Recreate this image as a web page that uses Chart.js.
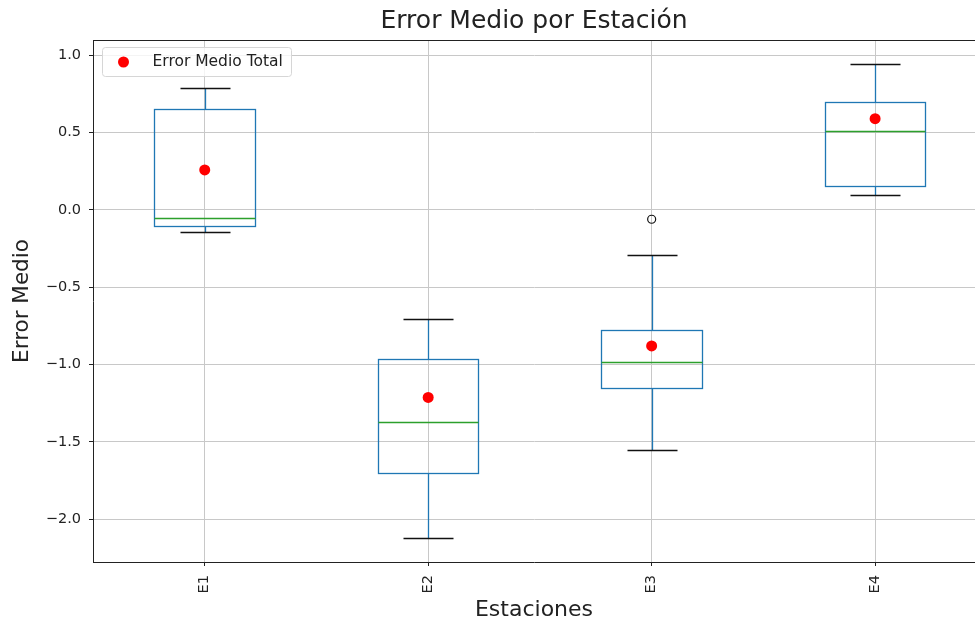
<!DOCTYPE html>
<html>
<head>
<meta charset="utf-8">
<script src="https://cdn.jsdelivr.net/npm/chart.js@4"></script>
<style>
  html, body { margin: 0; padding: 0; background: #fff; overflow: hidden; }
  #wrap { width: 975px; height: 627px; }
</style>
</head>
<body>
<div id="wrap"><canvas id="c" width="975" height="627"></canvas></div>
<script>
// Resumen por estación: bigotes, cuartiles, mediana, media y atípicos
const estaciones = ['E1', 'E2', 'E3', 'E4'];
const bigoteInf = [-0.142, -2.125, -1.553, 0.095];
const q1 = [-0.104, -1.700, -1.150, 0.155];
const mediana = [-0.054, -1.370, -0.986, 0.509];
const q3 = [0.652, -0.966, -0.777, 0.697];
const bigoteSup = [0.790, -0.706, -0.291, 0.943];
const errorMedioTotal = [0.259, -1.213, -0.880, 0.591];
const atipicos = [[], [], [-0.060], []];
const yTicks = [-2.0, -1.5, -1.0, -0.5, 0.0, 0.5, 1.0];

const FONT = "'DejaVu Sans', sans-serif";
const AZUL = '#1f77b4';
const VERDE = '#2ca02c';
const ANCHO_CAJA = 0.45;
const ANCHO_TOPE = 0.225;

const crisp = v => Math.round(v) + 0.5;

// Cajas y bigotes dibujados con las escalas del gráfico
const cajasPlugin = {
  id: 'cajas',
  beforeDatasetsDraw(chart) {
    const { ctx, chartArea, scales: { x, y } } = chart;
    ctx.save();
    ctx.beginPath();
    ctx.rect(chartArea.left, chartArea.top, chartArea.right - chartArea.left, chartArea.bottom - chartArea.top);
    ctx.clip();
    estaciones.forEach((_, i) => {
      const cx = crisp(x.getPixelForValue(i));
      const xl = crisp(x.getPixelForValue(i - ANCHO_CAJA / 2));
      const xr = crisp(x.getPixelForValue(i + ANCHO_CAJA / 2));
      const cl = crisp(x.getPixelForValue(i - ANCHO_TOPE / 2));
      const cr = crisp(x.getPixelForValue(i + ANCHO_TOPE / 2));
      const yQ1 = crisp(y.getPixelForValue(q1[i]));
      const yQ3 = crisp(y.getPixelForValue(q3[i]));
      const yMed = crisp(y.getPixelForValue(mediana[i]));
      const yLo = crisp(y.getPixelForValue(bigoteInf[i]));
      const yHi = crisp(y.getPixelForValue(bigoteSup[i]));

      ctx.lineWidth = 1.3;
      ctx.strokeStyle = AZUL;
      // bigotes
      ctx.beginPath();
      ctx.moveTo(cx, yQ3); ctx.lineTo(cx, yHi);
      ctx.moveTo(cx, yQ1); ctx.lineTo(cx, yLo);
      ctx.stroke();
      // caja
      ctx.strokeRect(xl, yQ3, xr - xl, yQ1 - yQ3);
      // topes
      ctx.strokeStyle = '#111';
      ctx.beginPath();
      ctx.moveTo(cl, yHi); ctx.lineTo(cr, yHi);
      ctx.moveTo(cl, yLo); ctx.lineTo(cr, yLo);
      ctx.stroke();
      // mediana
      ctx.strokeStyle = VERDE;
      ctx.beginPath();
      ctx.moveTo(xl, yMed); ctx.lineTo(xr, yMed);
      ctx.stroke();
    });
    ctx.restore();
  },
  afterDraw(chart) {
    // borde superior del área de trazado
    const { ctx, chartArea } = chart;
    ctx.save();
    ctx.strokeStyle = '#222';
    ctx.lineWidth = 1;
    ctx.beginPath();
    const yt = crisp(chartArea.top);
    ctx.moveTo(chartArea.left, yt);
    ctx.lineTo(chartArea.right, yt);
    ctx.stroke();
    ctx.restore();
  }
};

// Leyenda enmarcada en la esquina superior izquierda
const leyendaPlugin = {
  id: 'leyendaInterior',
  afterDatasetsDraw(chart) {
    const { ctx, chartArea } = chart;
    const ds = chart.data.datasets[0];
    const x0 = chartArea.left + 9.5, y0 = chartArea.top + 7.5;
    const w = 189, h = 29, r = 3;
    ctx.save();
    ctx.beginPath();
    ctx.moveTo(x0 + r, y0);
    ctx.arcTo(x0 + w, y0, x0 + w, y0 + h, r);
    ctx.arcTo(x0 + w, y0 + h, x0, y0 + h, r);
    ctx.arcTo(x0, y0 + h, x0, y0, r);
    ctx.arcTo(x0, y0, x0 + w, y0, r);
    ctx.closePath();
    ctx.fillStyle = 'rgba(255,255,255,0.8)';
    ctx.fill();
    ctx.strokeStyle = '#d6d6d6';
    ctx.lineWidth = 1;
    ctx.stroke();
    ctx.beginPath();
    ctx.arc(x0 + 21, y0 + h / 2, ds.pointRadius, 0, Math.PI * 2);
    ctx.fillStyle = ds.backgroundColor;
    ctx.fill();
    ctx.fillStyle = '#222';
    ctx.font = '15.5px ' + FONT;
    ctx.textBaseline = 'middle';
    ctx.textAlign = 'left';
    ctx.fillText(ds.label, x0 + 50, y0 + h / 2);
    ctx.restore();
  }
};

const menos = v => (v < 0 ? '\u2212' : '') + Math.abs(v).toFixed(1);

new Chart(document.getElementById('c'), {
  type: 'scatter',
  data: {
    datasets: [
      {
        label: 'Error Medio Total',
        data: errorMedioTotal.map((v, i) => ({ x: i, y: v })),
        pointRadius: 5.5,
        pointHoverRadius: 5.5,
        backgroundColor: '#ff0000',
        borderWidth: 0
      },
      {
        label: 'Atípicos',
        data: atipicos.flatMap((vals, i) => vals.map(v => ({ x: i, y: v }))),
        pointRadius: 4,
        pointHoverRadius: 4,
        backgroundColor: 'rgba(0,0,0,0)',
        borderColor: '#111',
        borderWidth: 1.2
      }
    ]
  },
  options: {
    responsive: false,
    animation: false,
    events: [],
    layout: { padding: 0, autoPadding: false },
    plugins: {
      legend: { display: false },
      tooltip: { enabled: false },
      title: {
        display: true,
        text: 'Error Medio por Estación',
        fullSize: false,
        color: '#222',
        font: { family: FONT, size: 25, weight: 'normal' },
        padding: { top: 6, bottom: 4 }
      }
    },
    scales: {
      x: {
        type: 'linear',
        min: -0.5,
        max: 3.447,
        afterBuildTicks: s => { s.ticks = estaciones.map((_, i) => ({ value: i })); },
        afterFit: s => { s.height = 65; s.paddingLeft = 0; s.paddingRight = 0; },
        ticks: {
          callback: v => estaciones[v],
          autoSkip: false,
          minRotation: 90,
          maxRotation: 90,
          padding: 9,
          color: '#222',
          font: { family: FONT, size: 14.5 }
        },
        grid: { color: '#c8c8c8', lineWidth: 1, tickColor: '#222', tickLength: 4 },
        border: { color: '#222', width: 1 },
        title: {
          display: true,
          text: 'Estaciones',
          color: '#222',
          font: { family: FONT, size: 22 },
          padding: { top: 0, bottom: 4 }
        }
      },
      y: {
        min: -2.278,
        max: 1.100,
        afterBuildTicks: s => { s.ticks = yTicks.map(v => ({ value: v })); },
        afterFit: s => { s.width = 93; s.paddingTop = 0; s.paddingBottom = 0; },
        ticks: {
          callback: v => menos(v),
          padding: 8,
          color: '#222',
          font: { family: FONT, size: 14.5 }
        },
        grid: { color: '#c8c8c8', lineWidth: 1, tickColor: '#222', tickLength: 4 },
        border: { color: '#222', width: 1 },
        title: {
          display: true,
          text: 'Error Medio',
          color: '#222',
          font: { family: FONT, size: 21.5 },
          padding: { top: 10, bottom: 0 }
        }
      }
    }
  },
  plugins: [cajasPlugin, leyendaPlugin]
});
</script>
</body>
</html>
